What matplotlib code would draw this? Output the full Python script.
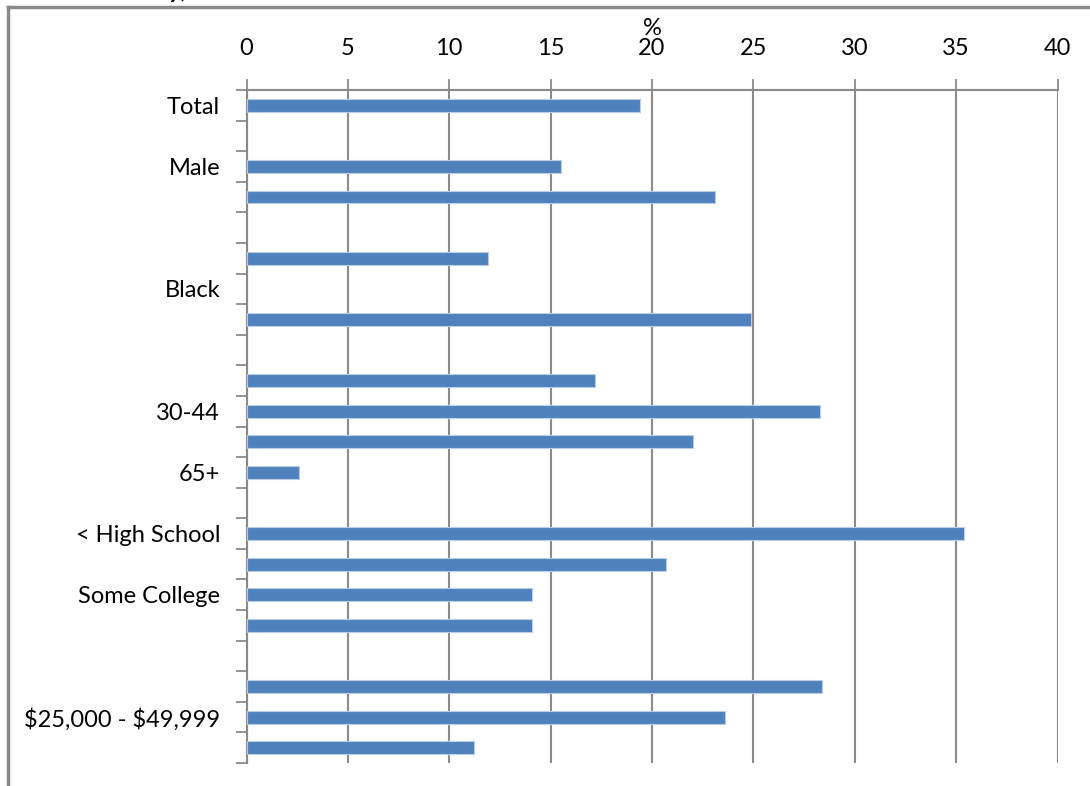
import numpy as np
from matplotlib import pyplot as plt
from matplotlib.lines import Line2D

plt.rcParams['font.family'] = ['Lato', 'DejaVu Sans']
plt.rcParams['text.parse_math'] = False

# categories top to bottom, blanks are spacer rows
categories = ["Total", "", "Male", "Female", "", "White", "Black", "Hispanic", "",
              "18-29", "30-44", "45-64", "65+", "",
              "< High School", "High School", "Some College", "College", "",
              "< $25,000", "$25,000 - $49,999", "$50,000+"]
values = [19.4, np.nan, 15.5, 23.1, np.nan, 11.9, np.nan, 24.9, np.nan,
          17.2, 28.3, 22.0, 2.6, np.nan,
          35.4, 20.7, 14.1, 14.1, np.nan,
          28.4, 23.6, 11.2]
x_ticks = [0, 5, 10, 15, 20, 25, 30, 35, 40]

fig = plt.figure(figsize=(10.9, 7.86), dpi=100)
ax = fig.add_axes([246.5 / 1090, 1 - 763 / 786, 811 / 1090, 673 / 786])

grey = "#8a8a8a"
fs = 17
pos = np.arange(len(categories))
ax.barh(pos, values, height=0.42, color="#4F81BD", edgecolor="#b9cde5", linewidth=0.8, zorder=3)

ax.set_xlim(0, 40)
ax.set_ylim(len(categories) - 0.5, -0.5)

# x axis on top with % label
ax.xaxis.tick_top()
ax.xaxis.set_label_position("top")
ax.set_xticks(x_ticks)
ax.set_xlabel("%", fontsize=fs, labelpad=2)
ax.tick_params(axis="x", length=8, width=1.3, color=grey, pad=14.5, labelsize=fs)
ax.grid(axis="x", color=grey, linewidth=1.5, zorder=0)

# only every other label shown, ticks between rows
ax.set_yticks(pos)
ax.set_yticklabels([c if i % 2 == 0 else "" for i, c in enumerate(categories)])
ax.set_yticks(np.arange(-0.5, len(categories)), minor=True)
ax.tick_params(axis="y", which="major", length=0, pad=19, labelsize=fs)
ax.tick_params(axis="y", which="minor", length=8, width=1.3, color=grey)

for side in ["right", "bottom"]:
    ax.spines[side].set_visible(False)
for side in ["top", "left"]:
    ax.spines[side].set_color(grey)
    ax.spines[side].set_linewidth(1.5)

# outer chart frame (cut off on right/bottom)
fig.add_artist(Line2D([8 / 1090, 8 / 1090], [0, 1 - 7 / 786], color=grey, linewidth=2.5))
fig.add_artist(Line2D([8 / 1090, 1], [1 - 7 / 786, 1 - 7 / 786], color=grey, linewidth=2.5))

# bit of the clipped title
fig.text(168 / 1090, 1 + 2 / 786, "y,", fontsize=18, fontweight="bold", va="baseline")

fig.savefig("out.png", dpi=100)
